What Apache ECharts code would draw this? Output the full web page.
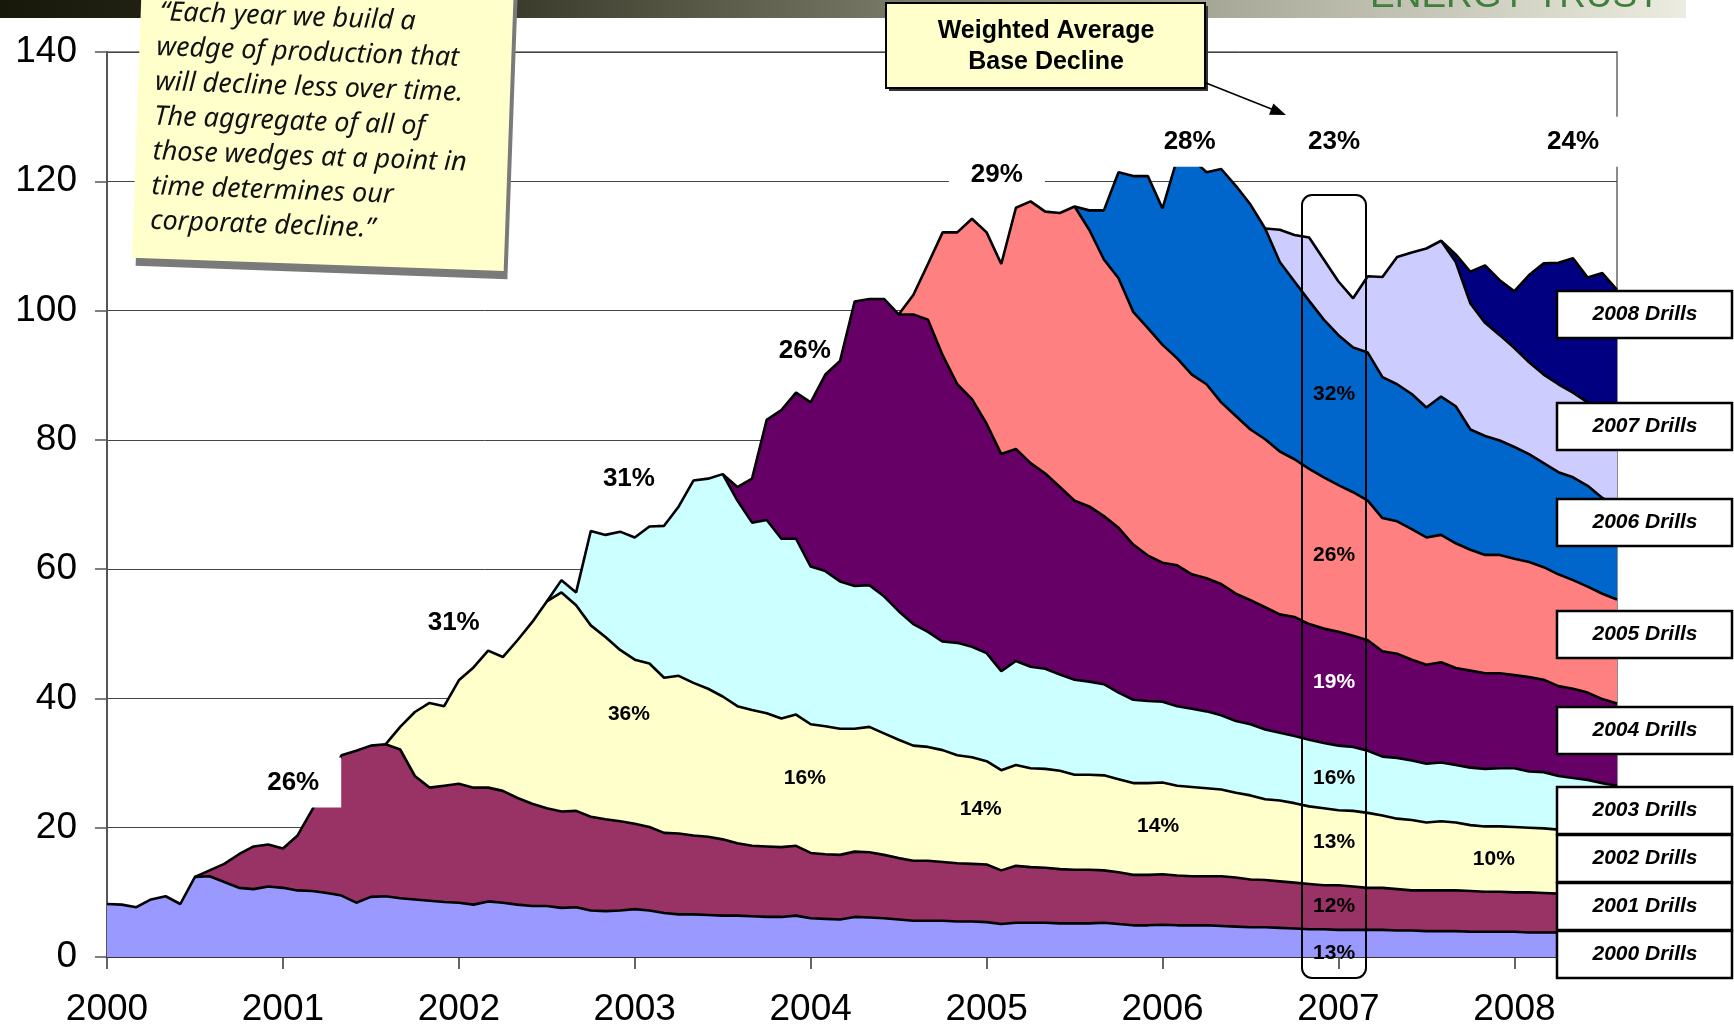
<!DOCTYPE html>
<html>
<head>
  <meta charset="utf-8">
  <title>Weighted average base decline by drilling year</title>
  <script src="https://cdn.jsdelivr.net/npm/echarts@6/dist/echarts.min.js"></script>
  <style>
    html,
    body {
      margin: 0;
      width: 100%;
      height: 100%;
      background: #fff;
    }

    #chart {
      width: 1734px;
      height: 1027px;
    }
  </style>
</head>
<body>
  <div id="chart"></div>
  <script>
    // x is a month index, 0 = Jan 2000 (monthly points up to Aug 2008)
    var yearLabels = ['2000', '2001', '2002', '2003', '2004', '2005', '2006', '2007', '2008'];
    var drillNames = ['2000 Drills', '2001 Drills', '2002 Drills', '2003 Drills', '2004 Drills',
      '2005 Drills', '2006 Drills', '2007 Drills', '2008 Drills'];
    // first month in which each drilling year shows up
    var startMonth = [0, 6, 19, 30, 42, 54, 66, 79, 91];

    // top edge of each wedge (production through that drilling year)
    var cum2000 = [8.2, 8.1, 7.7, 8.9, 9.4, 8.2, 12.4, 12.5, 11.6, 10.7,
      10.5, 10.9, 10.7, 10.3, 10.2, 9.9, 9.5, 8.4, 9.3, 9.4,
      9.1, 8.9, 8.7, 8.5, 8.4, 8.1, 8.6, 8.4, 8.1, 7.9,
      7.9, 7.6, 7.7, 7.2, 7.1, 7.2, 7.4, 7.2, 6.8, 6.6,
      6.6, 6.5, 6.4, 6.4, 6.3, 6.2, 6.2, 6.4, 6.0, 5.9,
      5.8, 6.2, 6.1, 6.0, 5.8, 5.6, 5.6, 5.6, 5.5, 5.5,
      5.4, 5.1, 5.3, 5.3, 5.3, 5.2, 5.2, 5.2, 5.3, 5.1,
      4.9, 4.9, 5.0, 4.9, 4.9, 4.9, 4.8, 4.7, 4.6, 4.6,
      4.5, 4.4, 4.3, 4.3, 4.2, 4.2, 4.2, 4.2, 4.1, 4.1,
      4.0, 4.0, 4.0, 3.9, 3.9, 3.9, 3.9, 3.8, 3.8, 3.8,
      3.7, 3.7, 3.6, 3.6];
    var cum2001 = [12.4, 13.4, 14.4, 15.9,
      17.1, 17.4, 16.8, 18.8, 22.8, 27.0, 31.2, 31.9, 32.7, 32.9,
      32.1, 28.0, 26.2, 26.5, 26.8, 26.2, 26.2, 25.7, 24.6, 23.7,
      23.0, 22.5, 22.6, 21.7, 21.3, 21.0, 20.6, 20.1, 19.2, 19.1,
      18.8, 18.6, 18.2, 17.6, 17.2, 17.1, 17.0, 17.2, 16.1, 15.9,
      15.8, 16.3, 16.2, 15.8, 15.3, 14.9, 14.9, 14.7, 14.5, 14.4,
      14.3, 13.4, 14.1, 13.9, 13.8, 13.6, 13.5, 13.5, 13.4, 13.1,
      12.7, 12.7, 12.8, 12.6, 12.5, 12.5, 12.5, 12.3, 12.0, 11.9,
      11.7, 11.5, 11.3, 11.1, 11.1, 10.9, 10.7, 10.7, 10.5, 10.3,
      10.3, 10.3, 10.3, 10.2, 10.1, 10.1, 10.0, 10.0, 9.9, 9.8,
      9.8, 9.7, 9.7, 9.6];
    var cum2002 = [32.9,
      35.6, 37.9, 39.3, 38.8, 42.8, 44.8, 47.4, 46.4, 49.0, 51.8,
      55.0, 56.4, 54.4, 51.3, 49.5, 47.5, 46.0, 45.4, 43.2, 43.5,
      42.4, 41.5, 40.3, 38.8, 38.2, 37.7, 36.9, 37.5, 36.0, 35.7,
      35.3, 35.3, 35.6, 34.6, 33.6, 32.7, 32.5, 32.0, 31.2, 30.9,
      30.3, 28.9, 29.7, 29.2, 29.1, 28.8, 28.2, 28.2, 28.1, 27.5,
      26.9, 26.9, 27.0, 26.5, 26.3, 26.1, 25.9, 25.4, 25.0, 24.4,
      24.2, 23.8, 23.3, 23.0, 22.7, 22.6, 22.3, 21.9, 21.4, 21.2,
      20.8, 21.0, 20.8, 20.4, 20.2, 20.2, 20.1, 20.0, 19.9, 19.7,
      19.5, 19.4, 19.3, 19.2];
    var cum2003 = [55.0, 58.3, 56.4, 65.9, 65.3, 65.8, 64.9, 66.6, 66.7, 69.7,
      73.7, 74.0, 74.7, 70.6, 67.2, 67.6, 64.7, 64.7, 60.4, 59.7,
      58.1, 57.4, 57.5, 55.8, 53.5, 51.5, 50.3, 48.8, 48.6, 48.0,
      47.0, 44.2, 45.8, 44.9, 44.6, 43.7, 42.9, 42.6, 42.2, 40.9,
      39.8, 39.6, 39.5, 38.8, 38.4, 38.0, 37.4, 36.5, 36.0, 35.2,
      34.7, 34.2, 33.6, 33.1, 32.7, 32.5, 31.9, 31.0, 30.8, 30.4,
      29.9, 30.1, 29.7, 29.3, 29.1, 29.2, 29.2, 28.7, 28.6, 28.0,
      27.7, 27.4, 26.9, 26.5];
    var cum2004 = [74.7, 72.7, 74.0, 83.1, 84.6, 87.3, 85.8, 90.1,
      92.2, 101.4, 101.8, 101.8, 99.4, 99.4, 98.6, 93.1, 88.6, 86.3,
      82.5, 77.8, 78.6, 76.4, 74.8, 72.7, 70.6, 69.7, 68.2, 66.4,
      63.8, 62.1, 61.0, 60.6, 59.2, 58.6, 57.7, 56.2, 55.2, 54.1,
      53.0, 52.6, 51.5, 50.8, 50.3, 49.7, 49.0, 47.3, 46.9, 46.0,
      45.2, 45.6, 44.7, 44.3, 43.9, 43.9, 43.6, 43.3, 42.9, 41.9,
      41.5, 40.9, 39.9, 39.2];
    var cum2005 = [99.4, 102.4, 107.2, 112.1, 112.1, 114.2,
      112.1, 107.2, 115.9, 116.9, 115.3, 115.1, 116.1, 112.5, 107.9, 105.0,
      99.8, 97.3, 94.7, 92.6, 90.1, 88.6, 85.8, 83.7, 81.6, 80.1,
      78.2, 77.0, 75.5, 74.2, 73.0, 71.9, 70.6, 67.9, 67.4, 66.2,
      64.9, 65.3, 64.0, 63.0, 62.2, 62.2, 61.6, 61.1, 60.3, 59.2,
      58.3, 57.3, 56.2, 55.3];
    var cum2006 = [116.1, 115.5, 115.5, 121.4,
      120.8, 120.8, 115.8, 123.5, 123.5, 121.4, 121.9, 119.3, 116.4, 112.7,
      107.5, 104.5, 101.5, 98.6, 96.2, 94.3, 93.5, 89.7, 88.6, 87.1,
      85.0, 86.7, 85.2, 81.6, 80.6, 79.9, 78.9, 77.8, 76.4, 75.0,
      74.2, 72.9, 71.0, 69.9];
    var cum2007 = [112.7,
      112.5, 111.7, 111.3, 107.9, 104.5, 101.9, 105.3, 105.2, 108.3, 109.0,
      109.6, 110.8, 107.5, 101.1, 98.1, 96.2, 94.2, 92.0, 90.1, 88.6,
      87.3, 85.8, 84.2, 82.5];
    var cum2008 = [110.8, 108.7, 106.0, 107.0, 104.7, 103.0, 105.5, 107.3, 107.4, 108.1,
      105.1, 105.8, 103.2];

    var cohortValues = [cum2000, cum2001, cum2002, cum2003, cum2004, cum2005, cum2006, cum2007, cum2008];
    var cohortColors = ['#9999ff', '#993366', '#ffffcc', '#ccffff', '#660066',
      '#ff8080', '#0066cc', '#ccccff', '#000080'];

    // yearly decline notes above the curve, and the ones inside the wedges
    var topNotes = ['26%', '31%', '31%', '26%', '29%', '28%', '23%', '24%'];
    var topNoteAt = [[12.7, 27.0], [23.65, 51.7], [35.6, 73.9], [47.6, 93.7],
      [60.7, 121.0], [73.85, 126.1], [83.7, 126.1], [100.0, 126.1]];
    var wedgeNotes = ['36%', '16%', '14%', '14%', '10%', '32%', '26%', '19%', '16%', '13%', '12%', '13%'];
    var wedgeNoteAt = [[35.6, 37.5], [47.6, 27.6], [59.6, 22.8], [71.7, 20.3], [94.6, 15.2],
      [83.7, 87.0], [83.7, 62.2], [83.7, 42.5], [83.7, 27.6], [83.7, 17.8], [83.7, 7.9], [83.7, 0.6]];

    var noteLines = ['\u201cEach year we build a', 'wedge of production that', 'will decline less over time.',
      'The aggregate of all of', 'those wedges at a point in', 'time determines our', 'corporate decline.\u201d'];

    var chart = echarts.init(document.getElementById('chart'));
    var font = '"Liberation Sans", Arial, sans-serif';

    var series = [];
    for (var k = cohortValues.length - 1; k >= 0; k--) {
      series.push({
        name: drillNames[k],
        type: 'line',
        symbol: 'none',
        silent: true,
        data: cohortValues[k].map(function (v, i) { return [startMonth[k] + i, v]; }),
        lineStyle: { color: '#000', width: 2.6 },
        areaStyle: { color: cohortColors[k], opacity: 1 }
      });
    }

    var labelData = topNotes.map(function (t, i) {
      return {
        value: topNoteAt[i],
        label: {
          formatter: t, fontSize: 26, fontWeight: 'bold', color: '#000',
          backgroundColor: i === 3 ? 'transparent' : '#fff', padding: [12, 22], lineHeight: 26
        }
      };
    }).concat(wedgeNotes.map(function (t, i) {
      return {
        value: wedgeNoteAt[i],
        label: { formatter: t, fontSize: 21, fontWeight: 'bold', color: i === 7 ? '#fff' : '#000' }
      };
    }));

    series.push({
      type: 'scatter',
      z: 10,
      silent: true,
      symbolSize: 1,
      itemStyle: { color: 'rgba(0,0,0,0)', opacity: 1 },
      label: { show: true, position: 'inside', fontFamily: font, opacity: 1 },
      data: labelData
    });

    // graphic pieces: header strip, sticky note, callout, drill-year tags
    var graphics = [{
      type: 'rect', z: 100,
      shape: { x: 0, y: 0, width: 1686, height: 18 },
      style: {
        fill: {
          type: 'linear', x: 0, y: 0, x2: 1, y2: 0,
          colorStops: [{ offset: 0, color: '#17170a' }, { offset: 0.3, color: '#3a3a2a' },
            { offset: 0.6, color: '#8a8a78' }, { offset: 1, color: '#ecece0' }]
        }
      }
    }, {
      type: 'text', z: 101,
      style: { text: 'ENERGY TRUST', x: 1370, y: -3, font: '37px ' + font, fill: '#3f7f3a', verticalAlign: 'middle' }
    }];

    var noteChildren = [{
      type: 'rect', z: 110, shape: { x: -182, y: -142, width: 372, height: 295 }, style: { fill: '#7a7a7a' }
    }, {
      type: 'rect', z: 111, shape: { x: -186, y: -150, width: 372, height: 295 }, style: { fill: '#ffffcc' }
    }];
    noteLines.forEach(function (line, i) {
      noteChildren.push({
        type: 'text', z: 112,
        style: {
          text: line, x: i === 0 ? -167 : -169, y: -101 + i * 34.8,
          font: 'italic 27px "Noto Sans", sans-serif', fill: '#111', verticalAlign: 'middle'
        }
      });
    });
    graphics.push({ type: 'group', z: 110, x: 323, y: 119.5, rotation: -0.036, children: noteChildren });

    graphics.push({
      type: 'rect', z: 110, shape: { x: 889, y: 6, width: 319, height: 85 }, style: { fill: '#333' }
    }, {
      type: 'rect', z: 111, shape: { x: 886, y: 3, width: 319, height: 85 },
      style: { fill: '#ffffcc', stroke: '#000', lineWidth: 2 }
    }, {
      type: 'text', z: 112,
      style: {
        text: 'Weighted Average\nBase Decline', x: 1046, y: 47, align: 'center', verticalAlign: 'middle',
        font: 'bold 25px ' + font, lineHeight: 31, fill: '#000'
      }
    }, {
      type: 'line', z: 112, shape: { x1: 1206, y1: 83, x2: 1274, y2: 110 }, style: { stroke: '#000', lineWidth: 1.5 }
    }, {
      type: 'polygon', z: 112, shape: { points: [[1286, 115], [1269, 114.7], [1273.4, 103.5]] }, style: { fill: '#000' }
    }, {
      type: 'rect', z: 105, shape: { x: 1302, y: 195, width: 64, height: 783, r: 10 },
      style: { fill: 'none', stroke: '#000', lineWidth: 2 }
    });

    var tagTop = [931, 883, 835, 787, 707, 611, 499, 403, 291];
    drillNames.forEach(function (name, i) {
      graphics.push({
        type: 'rect', z: 120, shape: { x: 1557, y: tagTop[i], width: 175, height: 47 },
        style: { fill: '#fff', stroke: '#000', lineWidth: 2.5 }
      }, {
        type: 'text', z: 121,
        style: {
          text: name, x: 1645, y: tagTop[i] + 23.5, align: 'center', verticalAlign: 'middle',
          font: 'italic bold 21px ' + font, fill: '#000'
        }
      });
    });

    var option = {
      animation: false,
      backgroundColor: '#fff',
      grid: {
        left: 107, right: 117, top: 52, bottom: 70,
        show: true, borderColor: '#8c8c8c', borderWidth: 2,
        containLabel: false, outerBoundsMode: 'none'
      },
      xAxis: {
        type: 'value', min: 0, max: 103, interval: 12,
        axisLine: { lineStyle: { color: '#333', width: 2 } },
        axisTick: { show: true, length: 12, lineStyle: { color: '#333', width: 1.5 } },
        axisLabel: {
          fontSize: 37, color: '#000', margin: 34, fontFamily: font,
          formatter: function (v) { return v % 12 === 0 ? yearLabels[v / 12] : ''; }
        },
        splitLine: { show: false }
      },
      yAxis: {
        type: 'value', min: 0, max: 140, interval: 20,
        axisLine: { show: true, lineStyle: { color: '#555', width: 2 } },
        axisTick: { show: true, length: 12, lineStyle: { color: '#555', width: 1.5 } },
        axisLabel: { fontSize: 37, color: '#000', margin: 30, fontFamily: font },
        splitLine: { lineStyle: { color: '#444', width: 1 } }
      },
      series: series,
      graphic: graphics
    };

    chart.setOption(option);
  </script>
</body>
</html>
